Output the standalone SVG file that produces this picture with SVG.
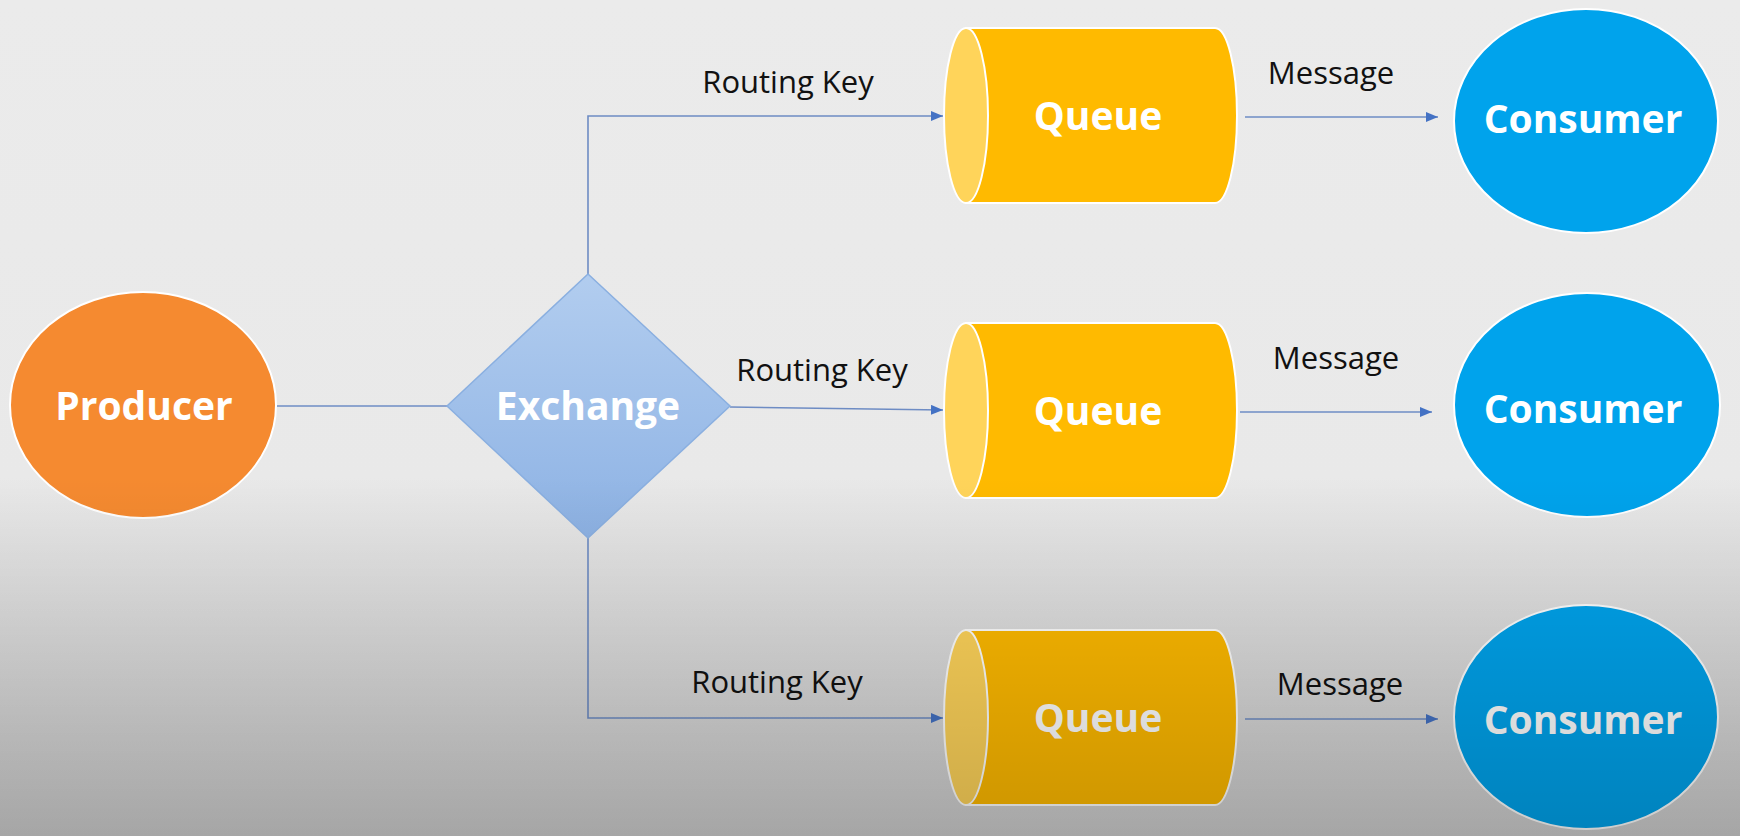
<svg xmlns="http://www.w3.org/2000/svg" width="1740" height="836" viewBox="0 0 1740 836">
  <defs>
    <linearGradient id="bg" gradientUnits="userSpaceOnUse" x1="0" y1="0" x2="0" y2="836">
      <stop offset="0" stop-color="#EBEBEB"/>
      <stop offset="0.57" stop-color="#E9E9E9"/>
      <stop offset="1" stop-color="#CFCFCF"/>
    </linearGradient>
    <linearGradient id="shadeGrad" gradientUnits="userSpaceOnUse" x1="0" y1="476" x2="0" y2="836">
      <stop offset="0" stop-color="#000" stop-opacity="0"/>
      <stop offset="1" stop-color="#000" stop-opacity="0.2"/>
    </linearGradient>
    <linearGradient id="exGrad" x1="0" y1="0" x2="0" y2="1">
      <stop offset="0" stop-color="#B2CDEF"/>
      <stop offset="1" stop-color="#8DB2E4"/>
    </linearGradient>
    <marker id="arrow" markerUnits="userSpaceOnUse" markerWidth="12" markerHeight="10" refX="12" refY="5" orient="auto">
      <path d="M0,0 L12,5 L0,10 Z" fill="#4472C4"/>
    </marker>
    <style>
      .conn { fill: none; stroke: #6E8CC4; stroke-width: 1.6; }
      .producer { fill: #F58A30; stroke: #FFFFFF; stroke-width: 2; }
      .exchange { fill: url(#exGrad); stroke: #8AAFE0; stroke-width: 1.5; }
      .qbody { fill: #FFBA00; stroke: #FFFFFF; stroke-width: 2; }
      .qcap { fill: #FFD45A; stroke: #FFFFFF; stroke-width: 2; }
      .consumer { fill: #00A3EC; stroke: #FFFFFF; stroke-width: 2; }
      .ntext { font-family: "Open Sans", "Liberation Sans", sans-serif; font-weight: 700; font-size: 39px; fill: #FFFFFF; text-anchor: middle; }
      .ltext { font-family: "Open Sans", "Liberation Sans", sans-serif; font-weight: 400; font-size: 31px; fill: #111111; text-anchor: middle; }
    </style>
  </defs>

  <rect x="0" y="0" width="1740" height="836" fill="url(#bg)"/>

  <g id="connectors">
    <path class="conn" d="M277,406 H447"/>
    <path class="conn" d="M588,274 V116 H943" marker-end="url(#arrow)"/>
    <path class="conn" d="M730,407 L943,410" marker-end="url(#arrow)"/>
    <path class="conn" d="M588,538 V718 H943" marker-end="url(#arrow)"/>
    <path class="conn" d="M1245,117 H1438" marker-end="url(#arrow)"/>
    <path class="conn" d="M1240,412 H1432" marker-end="url(#arrow)"/>
    <path class="conn" d="M1245,719 H1438" marker-end="url(#arrow)"/>
    <text class="ltext" x="788" y="93">Routing Key</text>
    <text class="ltext" x="822" y="381">Routing Key</text>
    <text class="ltext" x="777" y="693">Routing Key</text>
    <text class="ltext" x="1331" y="84">Message</text>
    <text class="ltext" x="1336" y="369">Message</text>
    <text class="ltext" x="1340" y="695">Message</text>
  </g>

  <g id="producer">
    <ellipse class="producer" cx="143" cy="405" rx="133" ry="113"/>
    <text class="ntext" x="144" y="420">Producer</text>
  </g>

  <g id="exchange">
    <polygon class="exchange" points="588,274 730,406 588,538 447,406"/>
    <text class="ntext" x="588" y="420">Exchange</text>
  </g>

  <g id="queue1">
    <path class="qbody" d="M966,28 H1215 A22,87.5 0 0 1 1215,203 H966 Z"/>
    <ellipse class="qcap" cx="966" cy="115.5" rx="22" ry="87.5"/>
    <text class="ntext" x="1098" y="130">Queue</text>
  </g>

  <g id="queue2">
    <path class="qbody" d="M966,323 H1215 A22,87.5 0 0 1 1215,498 H966 Z"/>
    <ellipse class="qcap" cx="966" cy="410.5" rx="22" ry="87.5"/>
    <text class="ntext" x="1098" y="425">Queue</text>
  </g>

  <g id="queue3">
    <path class="qbody" d="M966,630 H1215 A22,87.5 0 0 1 1215,805 H966 Z"/>
    <ellipse class="qcap" cx="966" cy="717.5" rx="22" ry="87.5"/>
    <text class="ntext" x="1098" y="732">Queue</text>
  </g>

  <g id="consumer1">
    <ellipse class="consumer" cx="1586" cy="121" rx="132" ry="112"/>
    <text class="ntext" x="1583" y="133">Consumer</text>
  </g>

  <g id="consumer2">
    <ellipse class="consumer" cx="1587" cy="405" rx="133" ry="112"/>
    <text class="ntext" x="1583" y="423">Consumer</text>
  </g>

  <g id="consumer3">
    <ellipse class="consumer" cx="1586" cy="717" rx="132" ry="112"/>
    <text class="ntext" x="1583" y="734">Consumer</text>
  </g>

  <rect id="shade" x="0" y="476" width="1740" height="360" fill="url(#shadeGrad)" pointer-events="none"/>
</svg>
